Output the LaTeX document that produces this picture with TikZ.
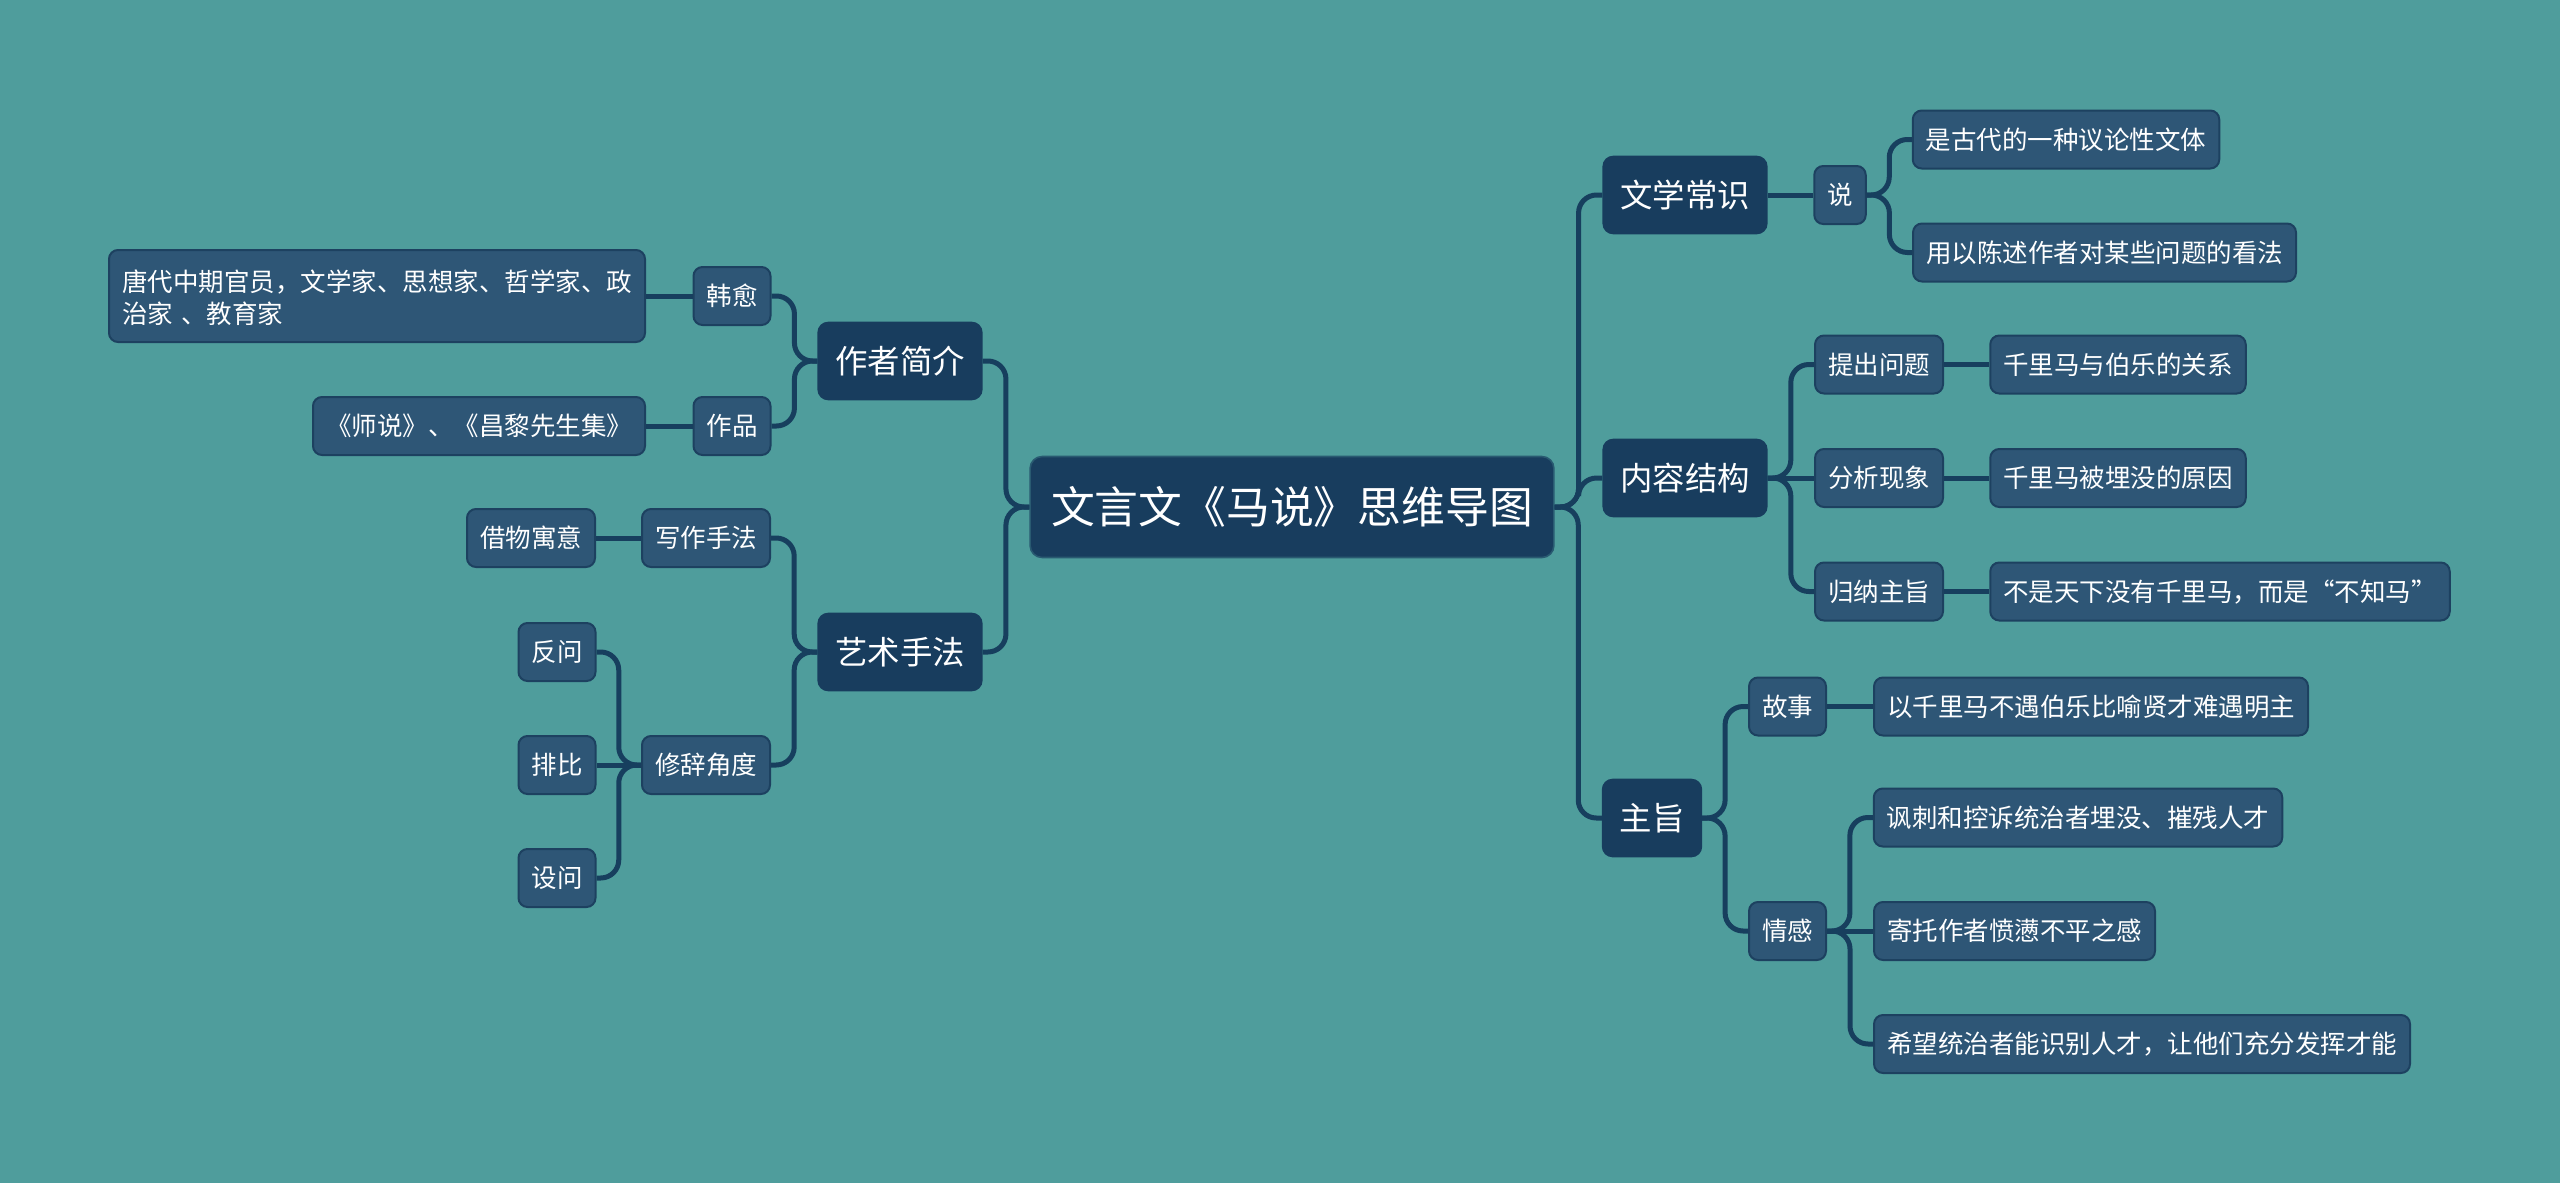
\documentclass[tikz,border=0pt]{standalone}
\usepackage{fontspec}
\setmainfont{Noto Sans CJK SC}
\usetikzlibrary{calc}
\definecolor{bg}{HTML}{4F9D9C}
\definecolor{dk}{HTML}{183D5E}
\definecolor{subc}{HTML}{2E5676}
\definecolor{ln}{HTML}{173F5E}
\definecolor{bd}{HTML}{1D4160}
\newcommand\lnR[2]{\path ($(#1.east)!0.5!(#2.west)$) coordinate (m); \draw[conn] (#1.east) -- (m |- #1.east) |- (#2.west);}
\newcommand\lnL[2]{\path ($(#1.west)!0.5!(#2.east)$) coordinate (m); \draw[conn] (#1.west) -- (m |- #1.west) |- (#2.east);}
\newcommand\lnSR[2]{\draw[conn] (#1.east) -- (#2.west);}
\newcommand\lnSL[2]{\draw[conn] (#1.west) -- (#2.east);}
\tikzset{
  base/.style={text=white, anchor=center, inner ysep=0pt},
  rootbox/.style={base, fill=dk, draw=dk!70!bg, line width=0.8pt, rounded corners=6pt,
    inner xsep=10.5pt, minimum height=50.5pt, text height=17.5pt, text depth=0.9pt,
    font=\fontsize{21.9pt}{26pt}\selectfont},
  mainbox/.style={base, fill=dk, draw=dk, line width=0.8pt, rounded corners=5pt,
    inner xsep=8.5pt, minimum height=38.5pt, text height=13pt, text depth=0.65pt,
    font=\fontsize{16.2pt}{20pt}\selectfont},
  subbox/.style={base, fill=subc, draw=bd, line width=1pt, rounded corners=4.5pt,
    inner xsep=6.5pt, minimum height=29pt, text height=10.2pt, text depth=0.5pt,
    font=\fontsize{12.75pt}{16pt}\selectfont},
  conn/.style={draw=ln, line width=2.5pt, rounded corners=9pt}
}
\begin{document}
\begin{tikzpicture}[x=0.5pt, y=-0.5pt]
\fill[bg] (0,0) rectangle (2560,1183);
\useasboundingbox (0,0) rectangle (2560,1183);

% root
\node[rootbox] (root) at (1292,507) {文言文《马说》思维导图};

% left main
\node[mainbox] (zzjj) at (900,361) {作者简介};
\node[mainbox] (yssf) at (900,652) {艺术手法};

% right main
\node[mainbox] (wxcs) at (1685,195) {文学常识};
\node[mainbox] (nrjg) at (1685,478) {内容结构};
\node[mainbox] (zhz) at (1652,818) {主旨};

% left subs
\node[subbox] (hy) at (732,296) {韩愈};
\node[subbox] (zp) at (732,426) {作品};
\node[subbox, text width=255pt, align=left, minimum height=46pt, text height=11.5pt, text depth=16.5pt] (l1) at (377,296)
  {唐代中期官员，文学家、思想家、哲学家、政\\治家 、教育家};
\node[subbox] (l2) at (479,426) {《师说》、《昌黎先生集》};
\node[subbox] (xzsf) at (706,538) {写作手法};
\node[subbox] (jwyy) at (531,538) {借物寓意};
\node[subbox] (xcjd) at (706,765) {修辞角度};
\node[subbox] (fw) at (557,652) {反问};
\node[subbox] (pb) at (557,765) {排比};
\node[subbox] (sw) at (557,878) {设问};

% right subs
\node[subbox] (shuo) at (1840,195) {说};
\node[subbox] (r1) at (2066,139.5) {是古代的一种议论性文体};
\node[subbox] (r2) at (2104.5,252.5) {用以陈述作者对某些问题的看法};
\node[subbox] (tcwt) at (1879,364.5) {提出问题};
\node[subbox] (r3) at (2118,364.5) {千里马与伯乐的关系};
\node[subbox] (fxxx) at (1879,478) {分析现象};
\node[subbox] (r4) at (2118,478) {千里马被埋没的原因};
\node[subbox] (gnzz) at (1879,591.5) {归纳主旨};
\node[subbox] (r5) at (2220,591.5) {不是天下没有千里马，而是“不知马”};
\node[subbox] (gs) at (1787.5,706.5) {故事};
\node[subbox] (r6) at (2091,706.5) {以千里马不遇伯乐比喻贤才难遇明主};
\node[subbox] (qg) at (1787.5,931) {情感};
\node[subbox] (r7) at (2078,817.5) {讽刺和控诉统治者埋没、摧残人才};
\node[subbox] (r8) at (2014.5,931) {寄托作者愤懑不平之感};
\node[subbox] (r9) at (2142,1044) {希望统治者能识别人才，让他们充分发挥才能};

% connectors
\lnL{root}{zzjj}
\lnL{root}{yssf}
\lnR{root}{wxcs}
\lnR{root}{nrjg}
\lnR{root}{zhz}
\lnL{zzjj}{hy}
\lnL{zzjj}{zp}
\lnSL{hy}{l1}
\lnSL{zp}{l2}
\lnL{yssf}{xzsf}
\lnL{yssf}{xcjd}
\lnSL{xzsf}{jwyy}
\lnL{xcjd}{fw}
\lnSL{xcjd}{pb}
\lnL{xcjd}{sw}
\lnSR{wxcs}{shuo}
\lnR{shuo}{r1}
\lnR{shuo}{r2}
\lnR{nrjg}{tcwt}
\lnSR{nrjg}{fxxx}
\lnR{nrjg}{gnzz}
\lnSR{tcwt}{r3}
\lnSR{fxxx}{r4}
\lnSR{gnzz}{r5}
\lnR{zhz}{gs}
\lnR{zhz}{qg}
\lnSR{gs}{r6}
\lnR{qg}{r7}
\lnSR{qg}{r8}
\lnR{qg}{r9}
\end{tikzpicture}
\end{document}
